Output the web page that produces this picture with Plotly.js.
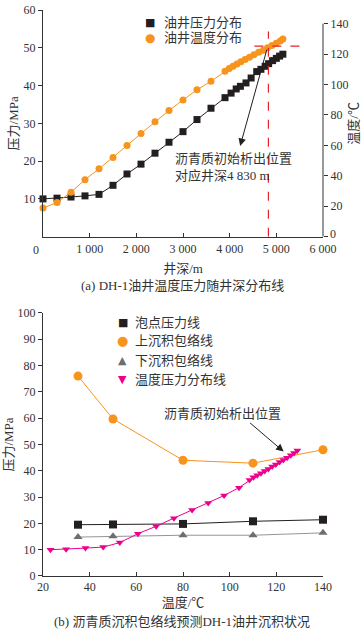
<!DOCTYPE html>
<html>
<head>
<meta charset="utf-8">
<script src="https://cdn.plot.ly/plotly-3.0.1.min.js"></script>
<style>
  html, body { margin: 0; padding: 0; background: #fff; }
  #chart { width: 364px; height: 634px; }
</style>
</head>
<body>
<div id="chart"></div>
<script>
// ---------- (a) well profile data ----------
const depthPressure = [0, 300, 600, 900, 1200, 1500, 1800, 2100, 2400, 2700, 3000, 3300, 3600, 3900, 4030, 4140, 4230, 4350, 4460, 4580, 4670, 4760, 4835, 4920, 5000, 5070, 5140];
const wellPressure  = [10.0, 10.2, 10.5, 10.8, 11.2, 13.6, 16.6, 19.2, 22.1, 25.0, 27.8, 31.0, 34.0, 36.8, 38.0, 39.1, 39.8, 40.7, 42.0, 43.7, 44.3, 45.1, 45.8, 46.6, 47.2, 47.8, 48.3];
const depthTemp     = [0, 300, 600, 900, 1200, 1500, 1800, 2100, 2400, 2700, 3000, 3300, 3600, 3900, 3990, 4070, 4155, 4240, 4330, 4425, 4520, 4620, 4720, 4810, 4905, 5000, 5085, 5140];
const wellTemp      = [18.8, 22.5, 29.2, 37.5, 44.6, 52.1, 59.9, 67.8, 75.5, 82.9, 89.9, 96.5, 102.2, 108.7, 110.6, 112.0, 113.5, 115.0, 116.5, 118.0, 119.6, 121.2, 122.6, 124.2, 125.6, 127.2, 128.6, 130.0];
const onsetDepth = 4830;      // 沥青质初始析出位置 井深 m
const onsetTemp  = 125.3;     // 对应温度 ℃

// ---------- (b) envelope data ----------
const envTemp   = [35, 50, 80, 110, 140];
const bubbleP   = [19.5, 19.6, 19.8, 20.8, 21.4];
const upperEnvP = [76.0, 59.7, 44.0, 42.9, 48.0];
const lowerEnvP = [14.8, 15.1, 15.5, 15.5, 16.4];
const pathTemp  = [23.2, 29.9, 38.2, 45.8, 52.9, 60.7, 68.5, 76.1, 83.9, 90.8, 97.6, 104.0, 108.5, 110.2, 111.8, 113.4, 115.0, 116.6, 118.2, 119.8, 121.4, 123.0, 124.6, 126.2, 127.6, 129.0];
const pathP     = [10.0, 10.2, 10.6, 11.0, 12.7, 16.1, 18.9, 22.0, 25.1, 27.8, 30.6, 33.6, 36.5, 37.5, 38.3, 39.1, 39.9, 40.7, 41.6, 42.4, 43.3, 44.1, 45.0, 45.9, 46.8, 47.7];

// ---------- ticks ----------
const depthTickVals  = [1000, 2000, 3000, 4000, 5000, 6000];
const depthTickText  = ['1 000', '2 000', '3 000', '4 000', '5 000', '6 000'];
const pTickValsA     = [10, 20, 30, 40, 50, 60];
const tTickValsA     = [0, 20, 40, 60, 80, 100, 120, 140];
const tTickTextA     = ['', '20', '40', '60', '80', '100', '120', '140'];
const tTickValsB     = [20, 40, 60, 80, 100, 120, 140];
const pTickValsB     = [0, 10, 20, 30, 40, 50, 60, 70, 80, 90, 100];

const BLACK = '#231f20', ORANGE = '#f7941d', GRAY = '#6d6e71', MAGENTA = '#ec008c', RED = '#e5242b', TXT = '#333333';
const SERIF = 'Liberation Serif, Noto Sans CJK SC, serif';
const CJK = 'Liberation Serif, Noto Sans CJK SC, sans-serif';

const traces = [
  { x: depthPressure, y: wellPressure, xaxis: 'x', yaxis: 'y', mode: 'lines+markers', cliponaxis: false,
    line: { color: BLACK, width: 1 }, marker: { symbol: 'square', size: 7, color: BLACK }, showlegend: false },
  { x: depthTemp, y: wellTemp, xaxis: 'x', yaxis: 'y2', mode: 'lines+markers', cliponaxis: false,
    line: { color: ORANGE, width: 1 }, marker: { symbol: 'circle', size: 7, color: ORANGE }, showlegend: false },

  { x: envTemp, y: bubbleP, xaxis: 'x2', yaxis: 'y3', mode: 'lines+markers', cliponaxis: false,
    line: { color: BLACK, width: 1 }, marker: { symbol: 'square', size: 8, color: BLACK }, showlegend: false },
  { x: envTemp, y: upperEnvP, xaxis: 'x2', yaxis: 'y3', mode: 'lines+markers', cliponaxis: false,
    line: { color: ORANGE, width: 1 }, marker: { symbol: 'circle', size: 9, color: ORANGE }, showlegend: false },
  { x: envTemp, y: lowerEnvP, xaxis: 'x2', yaxis: 'y3', mode: 'lines+markers', cliponaxis: false,
    line: { color: '#939598', width: 1 }, marker: { symbol: 'triangle-up', size: 8, color: GRAY }, showlegend: false },
  { x: pathTemp, y: pathP, xaxis: 'x2', yaxis: 'y3', mode: 'lines+markers', cliponaxis: false,
    line: { color: MAGENTA, width: 1 }, marker: { symbol: 'triangle-down', size: 7, color: MAGENTA }, showlegend: false }
];

const axisBase = {
  showline: true, linecolor: TXT, linewidth: 1, showgrid: false, zeroline: false,
  tickcolor: TXT, ticklen: 4, tickwidth: 1,
  tickfont: { family: SERIF, size: 12, color: TXT }
};

// legend helper (symbol glyph + label)
function legendRow(glyph, color, label, xs, xt, y, gsize) {
  return [
    { xref: 'paper', yref: 'paper', x: xs, y: y, xanchor: 'center', yanchor: 'middle', showarrow: false,
      text: glyph, font: { family: 'DejaVu Sans', size: gsize, color: color } },
    { xref: 'paper', yref: 'paper', x: xt, y: y, xanchor: 'left', yanchor: 'middle', showarrow: false,
      text: label, font: { family: CJK, size: 13, color: TXT } }
  ];
}

const annotations = [
  // origin label of (a)
  { xref: 'x', yref: 'y', x: 0, y: 0, xanchor: 'right', yanchor: 'top', xshift: -2, yshift: -4, showarrow: false,
    text: '0', font: { family: SERIF, size: 12, color: TXT } },
  // right-axis zero label of (a)
  { xref: 'paper', yref: 'y2', x: 1, y: 0, xanchor: 'left', yanchor: 'middle', xshift: 5, yshift: 3, showarrow: false,
    text: '0', font: { family: SERIF, size: 12, color: TXT } },
  // (a) arrow + note
  { xref: 'x', yref: 'y', axref: 'x', ayref: 'y', x: 4225, y: 24.0, ax: 4805, ay: 49.9, text: '', showarrow: true,
    arrowhead: 2, arrowsize: 1.5, arrowwidth: 1, arrowcolor: BLACK, standoff: 0 },
  { xref: 'x', yref: 'y', x: 2788, y: 18.5, xanchor: 'left', yanchor: 'middle', align: 'left', showarrow: false,
    text: '沥青质初始析出位置<br>对应井深4 830 m', font: { family: CJK, size: 13, color: TXT } },
  // captions
  { xref: 'paper', yref: 'paper', x: 0.498, y: 0.5124, xanchor: 'center', yanchor: 'middle', showarrow: false,
    text: '(a) DH-1油井温度压力随井深分布线', font: { family: CJK, size: 13, color: TXT } },
  { xref: 'paper', yref: 'paper', x: 0.498, y: -0.0807, xanchor: 'center', yanchor: 'middle', showarrow: false,
    text: '(b) 沥青质沉积包络线预测DH-1油井沉积状况', font: { family: CJK, size: 13, color: TXT } },
  // (b) arrow + note
  { xref: 'x2', yref: 'y3', axref: 'x2', ayref: 'y3', x: 123.1, y: 47.3, ax: 108.1, ay: 58.7, text: '', showarrow: true,
    arrowhead: 2, arrowsize: 1.5, arrowwidth: 1, arrowcolor: BLACK, standoff: 0 },
  { xref: 'x2', yref: 'y3', x: 71, y: 61.9, xanchor: 'left', yanchor: 'middle', showarrow: false,
    text: '沥青质初始析出位置', font: { family: CJK, size: 13, color: TXT } }
].concat(
  legendRow('■', BLACK, '油井压力分布', 0.383, 0.425, 0.9776, 11),
  legendRow('●', ORANGE, '油井温度分布', 0.383, 0.425, 0.9511, 12),
  legendRow('■', BLACK, '泡点压力线', 0.284, 0.320, 0.4475, 11),
  legendRow('●', ORANGE, '上沉积包络线', 0.284, 0.320, 0.4152, 13),
  legendRow('▲', GRAY, '下沉积包络线', 0.284, 0.320, 0.3799, 11),
  legendRow('▼', MAGENTA, '温度压力分布线', 0.284, 0.320, 0.3463, 11)
);

const shapes = [
  // right axis line of (a), from 0 to 140 ℃
  { type: 'line', xref: 'paper', yref: 'y2', x0: 1, x1: 1, y0: 0, y1: 140, line: { color: TXT, width: 1 } },
  // onset depth (vertical) and onset temperature (horizontal) guide lines
  { type: 'line', xref: 'x', yref: 'y', x0: onsetDepth, x1: onsetDepth, y0: 0, y1: 54.3, line: { color: RED, width: 1.2, dash: 'dash' } },
  { type: 'line', xref: 'x', yref: 'y2', x0: 4530, x1: 5530, y0: onsetTemp, y1: onsetTemp, line: { color: RED, width: 1.2, dash: 'dash' } }
];

const layout = {
  width: 364, height: 634,
  margin: { l: 43, r: 41, t: 10, b: 58 },
  paper_bgcolor: '#ffffff', plot_bgcolor: 'rgba(0,0,0,0)',
  showlegend: false,
  font: { family: CJK, color: TXT },
  xaxis: Object.assign({}, axisBase, {
    domain: [0, 1], anchor: 'y', range: [0, 6000], ticks: 'inside', ticklabelstandoff: 1,
    tickmode: 'array', tickvals: depthTickVals, ticktext: depthTickText,
    title: { text: '井深/m', font: { family: CJK, size: 13, color: TXT }, standoff: 8 }
  }),
  yaxis: Object.assign({}, axisBase, {
    domain: [0.5995, 1], anchor: 'x', range: [0, 60], ticks: 'outside',
    tickmode: 'array', tickvals: pTickValsA,
    title: { text: '压力/MPa', font: { family: CJK, size: 13, color: TXT }, standoff: 2 }
  }),
  yaxis2: Object.assign({}, axisBase, {
    overlaying: 'y', side: 'right', anchor: 'x', range: [0, 149], ticks: 'outside', showline: false,
    tickmode: 'array', tickvals: tTickValsA, ticktext: tTickTextA,
    title: { text: '温度/℃', font: { family: CJK, size: 13, color: TXT }, standoff: 1 }
  }),
  xaxis2: Object.assign({}, axisBase, {
    domain: [0, 1], anchor: 'y3', range: [20, 140], ticks: 'inside',
    tickmode: 'array', tickvals: tTickValsB,
    title: { text: '温度/℃', font: { family: CJK, size: 13, color: TXT }, standoff: 4 }
  }),
  yaxis3: Object.assign({}, axisBase, {
    domain: [0, 0.4647], anchor: 'x2', range: [0, 100], ticks: 'outside',
    tickmode: 'array', tickvals: pTickValsB,
    title: { text: '压力/MPa', font: { family: CJK, size: 13, color: TXT }, standoff: 1 }
  }),
  annotations: annotations,
  shapes: shapes
};

Plotly.newPlot('chart', traces, layout, { staticPlot: true, displayModeBar: false });
</script>
</body>
</html>
